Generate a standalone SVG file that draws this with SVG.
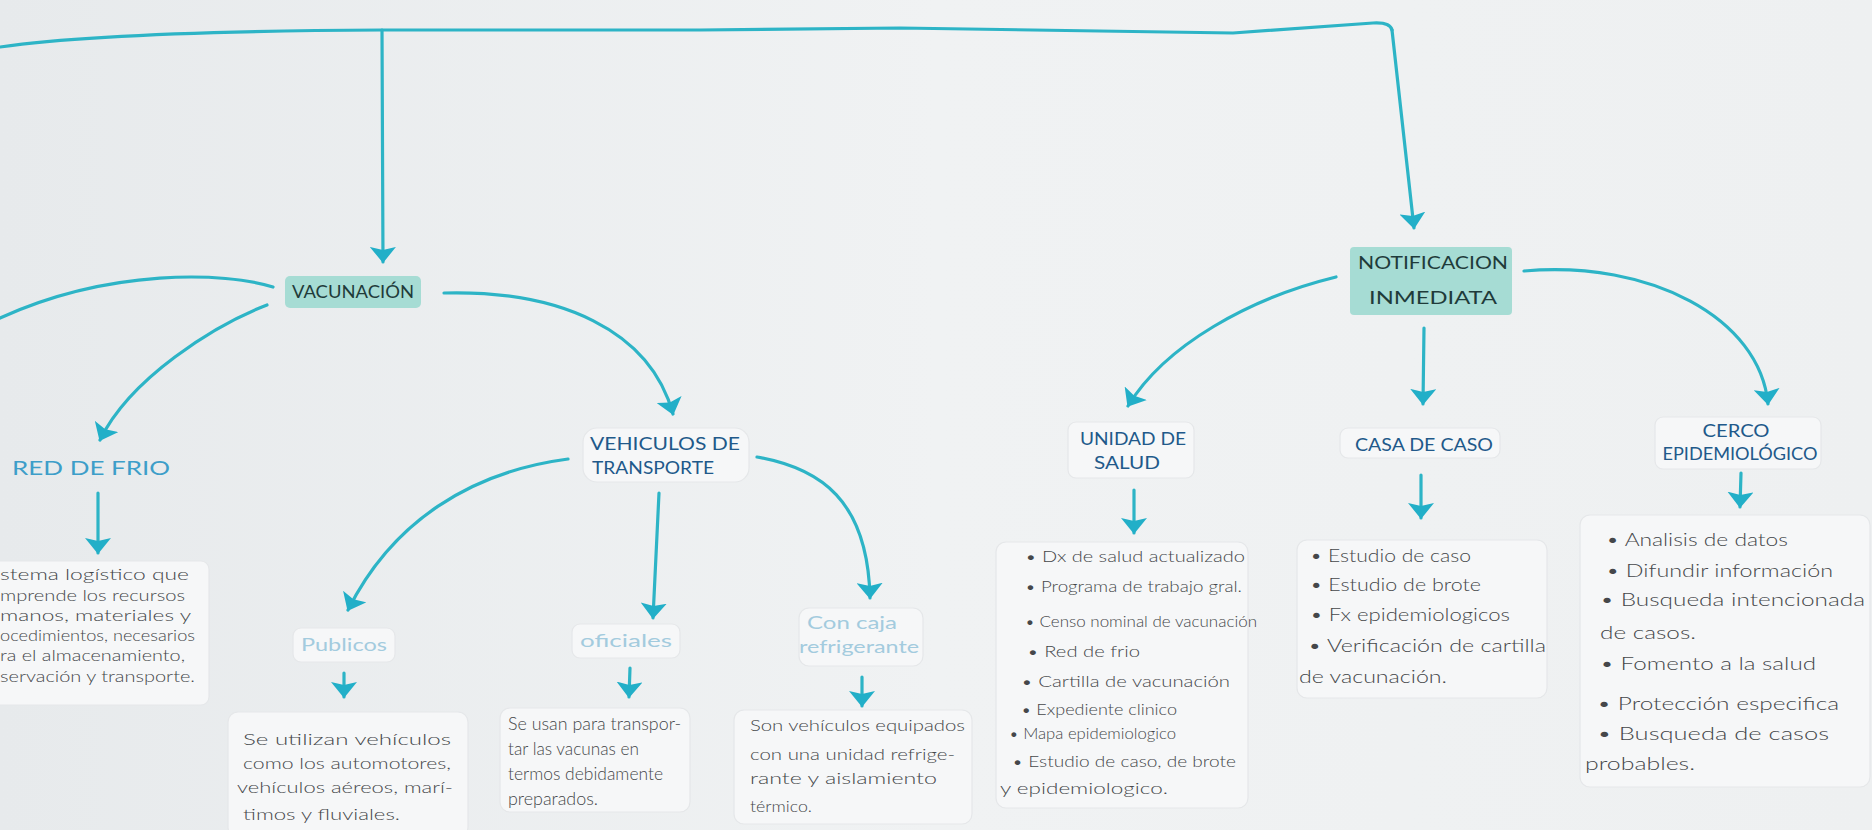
<svg xmlns="http://www.w3.org/2000/svg" width="1872" height="830" viewBox="0 0 1872 830">
<defs>
<linearGradient id="paper" x1="0" y1="0" x2="1" y2="0">
<stop offset="0" stop-color="#e7eaec"/>
<stop offset="0.5" stop-color="#f0f2f3"/>
<stop offset="1" stop-color="#eef0f1"/>
</linearGradient>
<marker id="ah" viewBox="0 0 16 26" refX="15" refY="13" markerWidth="16" markerHeight="26" markerUnits="userSpaceOnUse" orient="auto">
<path d="M0,0 L16,13 L0,26 L3,13 Z" fill="#22afc8"/>
</marker>
<style>
.c{fill:none;stroke:#2db4c6;stroke-width:3.2;stroke-linecap:round;stroke-linejoin:round}
.ca{fill:none;stroke:#2db4c6;stroke-width:3.2;stroke-linecap:round;marker-end:url(#ah)}
.hl{fill:#a6dcd4;stroke:none}
.card{fill:#f6f7f8;stroke:#e5e7e9;stroke-width:1.2}
.lbl{font-family:Lato,"Liberation Sans",Arial,sans-serif;font-size:17px;text-anchor:middle}
.big{font-size:18px}
.dk{fill:#1f3b3a}
.bl{fill:#21598a}
.rf{fill:#3d9ec9;font-size:19px}
.pl{fill:#a3cbde}
.tx{font-family:Lato,"Liberation Sans",Arial,sans-serif;font-weight:300;font-size:16px;fill:#45474a}
.sm{font-size:15px}
.md{font-size:17px}
.tb{font-family:Lato,"Liberation Sans",Arial,sans-serif;font-weight:300;font-size:18px;fill:#45474a}
</style>
</defs>
<rect x="0" y="0" width="1872" height="830" fill="url(#paper)"/>

<g id="connectors">
<path class="c" d="M0,47 C70,37 180,31 382,30 L700,30 L900,28 L1233,33 L1373,23 Q1390,22 1392,30"/>
<path class="ca" d="M1392,30 L1414,228"/>
<path class="ca" d="M382,30 L383,262"/>
<path class="c" d="M273,287 C225,272 110,268 0,318"/>
<path class="ca" d="M267,305 C215,325 130,378 100,440"/>
<path class="ca" d="M444,293 C560,290 650,330 673,414"/>
<path class="ca" d="M568,459 C470,472 392,522 348,610"/>
<path class="ca" d="M659,493 L653,618"/>
<path class="ca" d="M757,457 C820,468 868,500 870,598"/>
<path class="ca" d="M98,493 L98,553"/>
<path class="ca" d="M344,673 L344,697"/>
<path class="ca" d="M630,668 L629,697"/>
<path class="ca" d="M862,677 L862,706"/>
<path class="ca" d="M1336,277 C1250,298 1165,345 1128,406"/>
<path class="ca" d="M1424,328 L1423,404"/>
<path class="ca" d="M1524,271 C1650,260 1760,318 1768,404"/>
<path class="ca" d="M1134,490 L1134,533"/>
<path class="ca" d="M1421,475 L1421,518"/>
<path class="ca" d="M1741,473 L1740,507"/>
</g>

<g id="vacunacion">
<rect class="hl" x="285" y="276" width="136" height="32" rx="5"/>
<text class="lbl dk" x="353" y="298" textLength="122" lengthAdjust="spacingAndGlyphs">VACUNACIÓN</text>
</g>

<g id="notificacion">
<rect class="hl" x="1350" y="247" width="162" height="68" rx="4"/>
<text class="lbl big dk" x="1433" y="269" textLength="150" lengthAdjust="spacingAndGlyphs">NOTIFICACION</text>
<text class="lbl big dk" x="1433" y="304" textLength="128" lengthAdjust="spacingAndGlyphs">INMEDIATA</text>
</g>

<g id="red-de-frio">
<text class="lbl rf" x="91" y="475" textLength="158" lengthAdjust="spacingAndGlyphs">RED DE FRIO</text>
</g>

<g id="red-de-frio-texto">
<rect class="card" x="-10" y="561" width="219" height="144" rx="8"/>
<text class="tx sm" x="0" y="580" textLength="189" lengthAdjust="spacingAndGlyphs">stema logístico que</text>
<text class="tx sm" x="0" y="601" textLength="185" lengthAdjust="spacingAndGlyphs">mprende los recursos</text>
<text class="tx sm" x="0" y="621" textLength="191" lengthAdjust="spacingAndGlyphs">manos, materiales y</text>
<text class="tx sm" x="0" y="641" textLength="195" lengthAdjust="spacingAndGlyphs">ocedimientos, necesarios</text>
<text class="tx sm" x="0" y="661" textLength="185" lengthAdjust="spacingAndGlyphs">ra el almacenamiento,</text>
<text class="tx sm" x="0" y="682" textLength="195" lengthAdjust="spacingAndGlyphs">servación y transporte.</text>
</g>

<g id="vehiculos">
<rect class="card" x="583" y="428" width="166" height="54" rx="14"/>
<text class="lbl bl" x="665" y="450" textLength="150" lengthAdjust="spacingAndGlyphs">VEHICULOS DE</text>
<text class="lbl bl" x="653" y="474" textLength="122" lengthAdjust="spacingAndGlyphs">TRANSPORTE</text>
</g>

<g id="publicos">
<rect class="card" x="293" y="628" width="102" height="34" rx="8"/>
<text class="lbl pl" x="344" y="651" textLength="86" lengthAdjust="spacingAndGlyphs">Publicos</text>
</g>

<g id="publicos-texto">
<rect class="card" x="228" y="712" width="240" height="125" rx="10"/>
<text class="tx" x="243" y="745" textLength="208" lengthAdjust="spacingAndGlyphs">Se utilizan vehículos</text>
<text class="tx" x="243" y="769" textLength="208" lengthAdjust="spacingAndGlyphs">como los automotores,</text>
<text class="tx" x="237" y="793" textLength="216" lengthAdjust="spacingAndGlyphs">vehículos aéreos, marí-</text>
<text class="tx" x="243" y="820" textLength="157" lengthAdjust="spacingAndGlyphs">timos y fluviales.</text>
</g>

<g id="oficiales">
<rect class="card" x="572" y="624" width="108" height="34" rx="8"/>
<text class="lbl pl" x="626" y="647" textLength="92" lengthAdjust="spacingAndGlyphs">oficiales</text>
</g>

<g id="oficiales-texto">
<rect class="card" x="500" y="708" width="190" height="104" rx="10"/>
<text class="tx md" x="508" y="730" textLength="173" lengthAdjust="spacingAndGlyphs">Se usan para transpor-</text>
<text class="tx md" x="508" y="755" textLength="131" lengthAdjust="spacingAndGlyphs">tar las vacunas en</text>
<text class="tx md" x="508" y="780" textLength="155" lengthAdjust="spacingAndGlyphs">termos debidamente</text>
<text class="tx md" x="508" y="805" textLength="90" lengthAdjust="spacingAndGlyphs">preparados.</text>
</g>

<g id="con-caja">
<rect class="card" x="799" y="608" width="124" height="58" rx="10"/>
<text class="lbl pl" x="852" y="629" textLength="90" lengthAdjust="spacingAndGlyphs">Con caja</text>
<text class="lbl pl" x="859" y="653" textLength="120" lengthAdjust="spacingAndGlyphs">refrigerante</text>
</g>

<g id="con-caja-texto">
<rect class="card" x="734" y="710" width="238" height="114" rx="10"/>
<text class="tx" x="750" y="731" textLength="215" lengthAdjust="spacingAndGlyphs">Son vehículos equipados</text>
<text class="tx" x="750" y="760" textLength="205" lengthAdjust="spacingAndGlyphs">con una unidad refrige-</text>
<text class="tx" x="750" y="784" textLength="187" lengthAdjust="spacingAndGlyphs">rante y aislamiento</text>
<text class="tx" x="750" y="812" textLength="62" lengthAdjust="spacingAndGlyphs">térmico.</text>
</g>

<g id="unidad-de-salud">
<rect class="card" x="1068" y="422" width="126" height="56" rx="8"/>
<text class="lbl bl" x="1133" y="445" textLength="106" lengthAdjust="spacingAndGlyphs">UNIDAD DE</text>
<text class="lbl bl" x="1127" y="469" textLength="66" lengthAdjust="spacingAndGlyphs">SALUD</text>
</g>

<g id="unidad-de-salud-texto">
<rect class="card" x="996" y="542" width="252" height="266" rx="10"/>
<text class="tx" x="1025" y="562" textLength="220" lengthAdjust="spacingAndGlyphs">• Dx de salud actualizado</text>
<text class="tx" x="1025" y="592" textLength="217" lengthAdjust="spacingAndGlyphs">• Programa de trabajo gral.</text>
<text class="tx" x="1025" y="627" textLength="232" lengthAdjust="spacingAndGlyphs">• Censo nominal de vacunación</text>
<text class="tx" x="1027" y="657" textLength="113" lengthAdjust="spacingAndGlyphs">• Red de frio</text>
<text class="tx" x="1021" y="687" textLength="209" lengthAdjust="spacingAndGlyphs">• Cartilla de vacunación</text>
<text class="tx" x="1021" y="715" textLength="156" lengthAdjust="spacingAndGlyphs">• Expediente clinico</text>
<text class="tx" x="1009" y="739" textLength="167" lengthAdjust="spacingAndGlyphs">• Mapa epidemiologico</text>
<text class="tx" x="1012" y="767" textLength="224" lengthAdjust="spacingAndGlyphs">• Estudio de caso, de brote</text>
<text class="tx" x="1000" y="794" textLength="168" lengthAdjust="spacingAndGlyphs">y epidemiologico.</text>
</g>

<g id="casa-de-caso">
<rect class="card" x="1340" y="428" width="160" height="30" rx="8"/>
<text class="lbl bl" x="1424" y="451" textLength="138" lengthAdjust="spacingAndGlyphs">CASA DE CASO</text>
</g>

<g id="casa-de-caso-texto">
<rect class="card" x="1297" y="540" width="250" height="158" rx="10"/>
<text class="tb" x="1310" y="562" textLength="161" lengthAdjust="spacingAndGlyphs">• Estudio de caso</text>
<text class="tb" x="1310" y="591" textLength="171" lengthAdjust="spacingAndGlyphs">• Estudio de brote</text>
<text class="tb" x="1310" y="621" textLength="200" lengthAdjust="spacingAndGlyphs">• Fx epidemiologicos</text>
<text class="tb" x="1308" y="652" textLength="238" lengthAdjust="spacingAndGlyphs">• Verificación de cartilla</text>
<text class="tb" x="1299" y="683" textLength="148" lengthAdjust="spacingAndGlyphs">de vacunación.</text>
</g>

<g id="cerco-epidemiologico">
<rect class="card" x="1655" y="417" width="166" height="52" rx="8"/>
<text class="lbl bl" x="1736" y="437" textLength="67" lengthAdjust="spacingAndGlyphs">CERCO</text>
<text class="lbl bl" x="1740" y="460" textLength="155" lengthAdjust="spacingAndGlyphs">EPIDEMIOLÓGICO</text>
</g>

<g id="cerco-epidemiologico-texto">
<rect class="card" x="1580" y="515" width="290" height="272" rx="10"/>
<text class="tb" x="1606" y="546" textLength="182" lengthAdjust="spacingAndGlyphs">• Analisis de datos</text>
<text class="tb" x="1606" y="577" textLength="227" lengthAdjust="spacingAndGlyphs">• Difundir información</text>
<text class="tb" x="1600" y="606" textLength="265" lengthAdjust="spacingAndGlyphs">• Busqueda intencionada</text>
<text class="tb" x="1600" y="639" textLength="96" lengthAdjust="spacingAndGlyphs">de casos.</text>
<text class="tb" x="1600" y="670" textLength="216" lengthAdjust="spacingAndGlyphs">• Fomento a la salud</text>
<text class="tb" x="1597" y="710" textLength="242" lengthAdjust="spacingAndGlyphs">• Protección especifica</text>
<text class="tb" x="1597" y="740" textLength="232" lengthAdjust="spacingAndGlyphs">• Busqueda de casos</text>
<text class="tb" x="1585" y="770" textLength="110" lengthAdjust="spacingAndGlyphs">probables.</text>
</g>
</svg>
